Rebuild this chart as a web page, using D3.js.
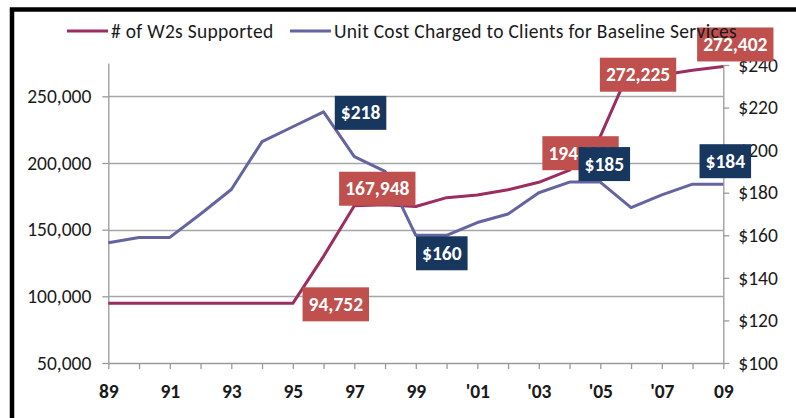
<!DOCTYPE html>
<html>
<head>
<meta charset="utf-8">
<script src="https://cdn.jsdelivr.net/npm/d3@7"></script>
<style>
  html, body { margin: 0; padding: 0; background: #fff; }
  svg { display: block; font-family: Carlito, Calibri, Lato, sans-serif; }
</style>
</head>
<body>
<div id="chart"></div>
<script>
// data
const years = d3.range(1989, 2010);
const w2s = [94752, 94752, 94752, 94752, 94752, 94752, 94752, 130000, 167948, 168600, 167400,
  174000, 176000, 180000, 185500, 194600, 220000, 272225, 266000, 269500, 272402];
const unitCost = [156.5, 159, 159, 170, 181.5, 204, 211, 218, 197, 190, 160,
  160, 166, 170, 180, 185, 185, 173, 179, 184, 184];
const xTickYears = [1989, 1991, 1993, 1995, 1997, 1999, 2001, 2003, 2005, 2007, 2009];
const xTickLabels = ["89", "91", "93", "95", "97", "99", "'01", "'03", "'05", "'07", "09"];
const leftTicks = [50000, 100000, 150000, 200000, 250000];
const rightTicks = [100, 120, 140, 160, 180, 200, 220, 240];
const seriesNames = ["# of W2s Supported", "Unit Cost Charged to Clients for Baseline Services"];

// callouts: which point gets a label, and the text shown
const w2sCallouts = [
  { year: 1995, text: "94,752", dx: 43, dy: 1 },
  { year: 1997, text: "167,948", dx: 23, dy: -17 },
  { year: 2004, text: "194,590", dx: 11, dy: -17 },
  { year: 2006, text: "272,225", dx: 7, dy: 8 },
  { year: 2009, text: "272,402", dx: 12, dy: -22 }
];
const costCallouts = [
  { year: 1996, text: "$218", dx: 37, dy: 1 },
  { year: 1999, text: "$160", dx: 26, dy: 18 },
  { year: 2005, text: "$185", dx: 4, dy: -18 },
  { year: 2009, text: "$184", dx: 2, dy: -23 }
];

const width = 796, height = 418;
const redLine = "#9b2d60", blueLine = "#6464a0";
const redBox = "#c0504d", blueBox = "#17375e";

const svg = d3.select("#chart").append("svg")
  .attr("width", width).attr("height", height);

const x = d3.scaleLinear().domain([1989, 2009]).range([108.3, 723.3]);
const yL = d3.scaleLinear().domain([50000, 275000]).range([363, 63]);
const yR = d3.scaleLinear().domain([100, 240]).range([363, 65]);

// frame
svg.append("path")
  .attr("d", `M12,${height} V9.5 H${width}`)
  .attr("fill", "none").attr("stroke", "#000").attr("stroke-width", 4.5);

// gridlines
svg.append("g").selectAll("line")
  .data(leftTicks.slice(1))
  .join("line")
  .attr("x1", x(1989)).attr("x2", x(2009))
  .attr("y1", d => Math.round(yL(d)) + 0.5).attr("y2", d => Math.round(yL(d)) + 0.5)
  .attr("stroke", "#a6a6a6").attr("stroke-width", 1.3);

// axes
const axisStyle = g => {
  g.attr("font-family", null);
  g.select(".domain").attr("stroke", "#9a9a9a").attr("stroke-width", 1.3);
  g.selectAll(".tick line").attr("stroke", "#9a9a9a").attr("stroke-width", 1.3);
  g.selectAll("text").attr("fill", "#1a1a1a").style("font-size", "19.5px");
};

svg.append("g")
  .attr("transform", `translate(${x(1989)},0)`)
  .call(d3.axisLeft(yL).tickValues(leftTicks).tickSize(6).tickSizeOuter(0)
    .tickFormat(d3.format(",")).tickPadding(11))
  .call(axisStyle);

svg.append("g")
  .attr("transform", `translate(${x(2009)},0)`)
  .call(d3.axisRight(yR).tickValues(rightTicks).tickSize(6).tickSizeOuter(0)
    .tickFormat(d => "$" + d).tickPadding(9))
  .call(axisStyle);

const xAxis = svg.append("g")
  .attr("transform", `translate(0,${yL(50000)})`)
  .call(d3.axisBottom(x).tickValues(years).tickSize(6).tickSizeOuter(0)
    .tickFormat(d => {
      const i = xTickYears.indexOf(d);
      return i >= 0 ? xTickLabels[i] : "";
    }).tickPadding(15))
  .call(axisStyle);
xAxis.selectAll("text").attr("font-weight", "bold");

// lines
const redPath = d3.line().x((d, i) => x(years[i])).y(d => yL(d));
const bluePath = d3.line().x((d, i) => x(years[i])).y(d => yR(d));

svg.append("path").datum(w2s)
  .attr("d", redPath).attr("fill", "none")
  .attr("stroke", redLine).attr("stroke-width", 3).attr("stroke-linejoin", "round");

svg.append("path").datum(unitCost)
  .attr("d", bluePath).attr("fill", "none")
  .attr("stroke", blueLine).attr("stroke-width", 3).attr("stroke-linejoin", "round");

// callout boxes
function callouts(list, values, yScale, fill) {
  const g = svg.append("g");
  list.forEach(c => {
    const i = years.indexOf(c.year);
    const cx = x(c.year) + c.dx;
    const cy = yScale(values[i]) + c.dy;
    const lab = g.append("g").attr("transform", `translate(${cx},${cy})`);
    const rect = lab.append("rect").attr("fill", fill);
    const t = lab.append("text")
      .attr("text-anchor", "middle").attr("dy", "0.34em")
      .style("font-size", "19.5px").attr("font-weight", "bold").attr("fill", "#fff")
      .text(c.text);
    const w = t.node().getComputedTextLength() + 12;
    rect.attr("x", -w / 2).attr("y", -17).attr("width", w).attr("height", 34);
  });
}
callouts(w2sCallouts, w2s, yL, redBox);
callouts(costCallouts, unitCost, yR, blueBox);

// legend
const legend = svg.append("g").attr("transform", "translate(0,31)");
const legendItems = [
  { name: seriesNames[0], color: redLine, x: 67 },
  { name: seriesNames[1], color: blueLine, x: 290 }
];
legendItems.forEach(d => {
  legend.append("line")
    .attr("x1", d.x).attr("x2", d.x + 41)
    .attr("stroke", d.color).attr("stroke-width", 3);
  legend.append("text")
    .attr("x", d.x + 44).attr("dy", "0.34em")
    .style("font-size", "19.5px").style("letter-spacing", "0.3px").attr("fill", "#1a1a1a")
    .text(d.name);
});
</script>
</body>
</html>
